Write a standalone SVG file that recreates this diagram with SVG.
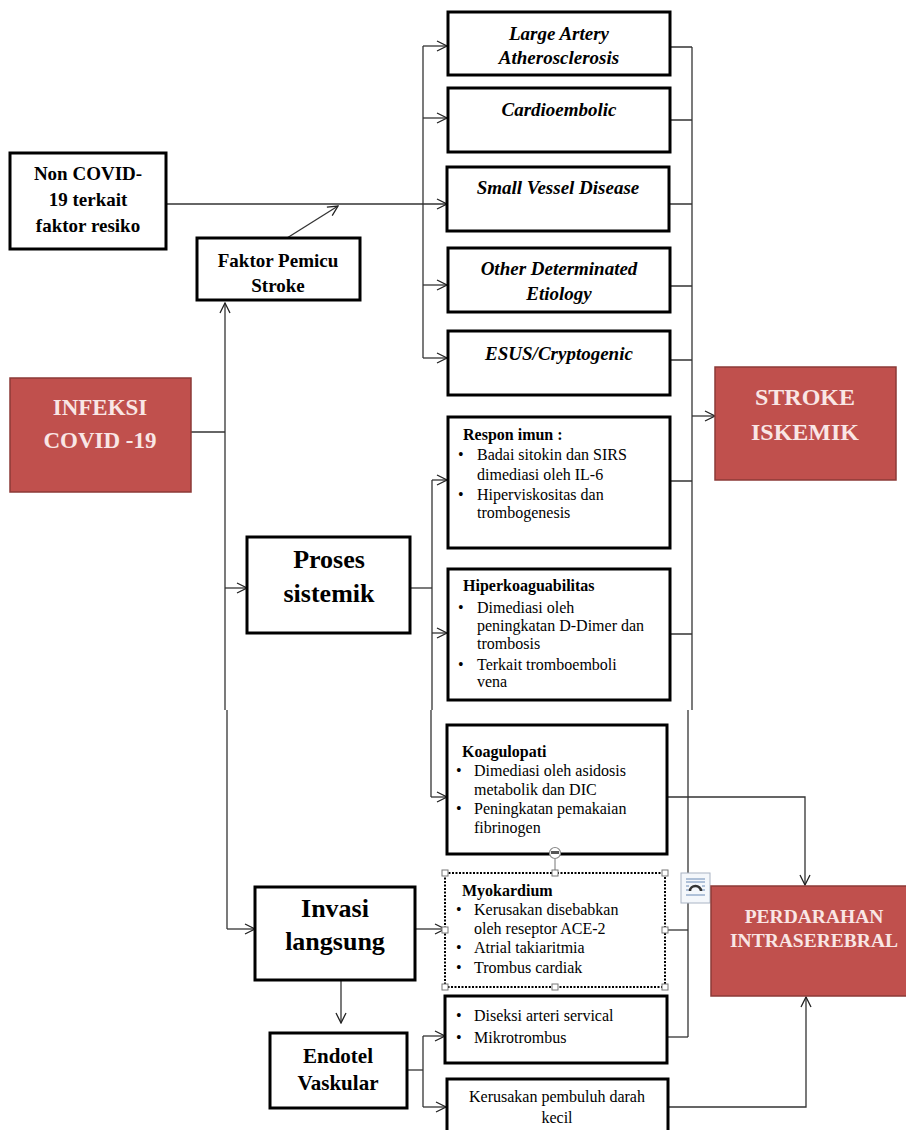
<svg xmlns="http://www.w3.org/2000/svg" width="906" height="1130" viewBox="0 0 906 1130">
<defs>
<marker id="ar" markerUnits="userSpaceOnUse" markerWidth="12" markerHeight="12" viewBox="0 0 12 12" refX="11" refY="6" orient="auto">
<path d="M1,1 L11,6 L1,11" fill="none" stroke="#222" stroke-width="1.3"/>
</marker>
</defs>
<style>
.bx{fill:#fff;stroke:#000;stroke-width:3}
.rb{fill:#c0504d;stroke:#8c3a37;stroke-width:1.5}
.ln{fill:none;stroke:#333;stroke-width:1.3}
.t{font-family:"Liberation Serif","Times New Roman",serif;fill:#000}
.b{font-weight:bold}
.i{font-style:italic}
.c{text-anchor:middle}
.w{fill:#f9e6e5;font-weight:bold}
.s{font-size:16px}
.h{fill:#fff;stroke:#777;stroke-width:1}
</style>
<rect width="906" height="1130" fill="#fff"/>

<g id="connectors">
<path class="ln" d="M166,204 H447" marker-end="url(#ar)"/>
<path class="ln" d="M287,238 L338,206" marker-end="url(#ar)"/>
<path class="ln" d="M191,432 H225"/>
<path class="ln" d="M225,710 V303" marker-end="url(#ar)"/>
<path class="ln" d="M227,710 V929"/>
<path class="ln" d="M225,588 H247" marker-end="url(#ar)"/>
<path class="ln" d="M227,929 H255" marker-end="url(#ar)"/>
<path class="ln" d="M423,46 V358"/>
<path class="ln" d="M423,46 H447" marker-end="url(#ar)"/>
<path class="ln" d="M423,118 H447" marker-end="url(#ar)"/>
<path class="ln" d="M423,285 H447" marker-end="url(#ar)"/>
<path class="ln" d="M423,358 H447" marker-end="url(#ar)"/>
<path class="ln" d="M670,47 H692 M670,120 H692 M670,204 H692 M670,286 H692 M670,360 H692"/>
<path class="ln" d="M692,47 V710"/>
<path class="ln" d="M688,710 V1037"/>
<path class="ln" d="M692,416 H715" marker-end="url(#ar)"/>
<path class="ln" d="M410,588 H432"/>
<path class="ln" d="M432,480 V710"/>
<path class="ln" d="M431,710 V797"/>
<path class="ln" d="M432,480 H447" marker-end="url(#ar)"/>
<path class="ln" d="M432,633 H447" marker-end="url(#ar)"/>
<path class="ln" d="M431,797 H447" marker-end="url(#ar)"/>
<path class="ln" d="M670,481 H692 M670,634 H692"/>
<path class="ln" d="M667,797 H805 V885" marker-end="url(#ar)"/>
<path class="ln" d="M665,930 H688"/>
<path class="ln" d="M415,929 H445" marker-end="url(#ar)"/>
<path class="ln" d="M341,980 V1023" marker-end="url(#ar)"/>
<path class="ln" d="M407,1070 H423"/>
<path class="ln" d="M423,1036 V1107"/>
<path class="ln" d="M423,1036 H445" marker-end="url(#ar)"/>
<path class="ln" d="M423,1107 H446" marker-end="url(#ar)"/>
<path class="ln" d="M667,1037 H688"/>
<path class="ln" d="M668,1107 H806 V997" marker-end="url(#ar)"/>
</g>

<g id="non-covid">
<rect class="bx" x="10" y="153" width="156" height="96"/>
<text class="t b c" font-size="19" x="88" y="180">Non COVID-</text>
<text class="t b c" font-size="19" x="88" y="206">19 terkait</text>
<text class="t b c" font-size="19" x="88" y="232">faktor resiko</text>
</g>

<g id="faktor-pemicu">
<rect class="bx" x="197" y="238" width="163" height="62" stroke-width="2.5"/>
<text class="t b c" font-size="19" x="278" y="267">Faktor Pemicu</text>
<text class="t b c" font-size="19" x="278" y="292">Stroke</text>
</g>

<g id="infeksi">
<rect class="rb" x="10" y="378" width="181" height="114"/>
<text class="t w c" font-size="23" x="100" y="415">INFEKSI</text>
<text class="t w c" font-size="23" x="100" y="448">COVID -19</text>
</g>

<g id="large-artery">
<rect class="bx" x="448" y="12" width="222" height="63"/>
<text class="t b i c" font-size="19" x="559" y="40">Large Artery</text>
<text class="t b i c" font-size="19" x="559" y="64">Atherosclerosis</text>
</g>
<g id="cardioembolic">
<rect class="bx" x="448" y="88" width="222" height="64"/>
<text class="t b i c" font-size="19" x="559" y="116">Cardioembolic</text>
</g>
<g id="small-vessel">
<rect class="bx" x="447" y="167" width="222" height="64"/>
<text class="t b i c" font-size="19" x="558" y="194">Small Vessel Disease</text>
</g>
<g id="other-determinated">
<rect class="bx" x="448" y="248" width="222" height="64"/>
<text class="t b i c" font-size="19" x="559" y="275">Other Determinated</text>
<text class="t b i c" font-size="19" x="559" y="300">Etiology</text>
</g>
<g id="esus">
<rect class="bx" x="448" y="331" width="222" height="64"/>
<text class="t b i c" font-size="19" x="559" y="360">ESUS/Cryptogenic</text>
</g>

<g id="stroke-iskemik">
<rect class="rb" x="715" y="367" width="181" height="113"/>
<text class="t w c" font-size="24" x="805" y="405">STROKE</text>
<text class="t w c" font-size="24" x="805" y="440">ISKEMIK</text>
</g>

<g id="proses-sistemik">
<rect class="bx" x="247" y="537" width="163" height="96"/>
<text class="t b c" font-size="26" x="329" y="568">Proses</text>
<text class="t b c" font-size="26" x="329" y="602">sistemik</text>
</g>

<g id="respon-imun">
<rect class="bx" x="448" y="417" width="222" height="131"/>
<text class="t b s" x="463" y="440">Respon imun :</text>
<text class="t s" x="458" y="460">•</text><text class="t s" x="477" y="460">Badai sitokin dan SIRS</text>
<text class="t s" x="477" y="480">dimediasi oleh IL-6</text>
<text class="t s" x="458" y="500">•</text><text class="t s" x="477" y="500">Hiperviskositas dan</text>
<text class="t s" x="477" y="518">trombogenesis</text>
</g>

<g id="hiperkoagulabilitas">
<rect class="bx" x="448" y="569" width="222" height="131"/>
<text class="t b s" x="463" y="591">Hiperkoaguabilitas</text>
<text class="t s" x="458" y="613">•</text><text class="t s" x="477" y="613">Dimediasi oleh</text>
<text class="t s" x="477" y="631">peningkatan D-Dimer dan</text>
<text class="t s" x="477" y="649">trombosis</text>
<text class="t s" x="458" y="670">•</text><text class="t s" x="477" y="670">Terkait tromboemboli</text>
<text class="t s" x="477" y="687">vena</text>
</g>

<g id="koagulopati">
<rect class="bx" x="447" y="725" width="220" height="129"/>
<text class="t b s" x="462" y="757">Koagulopati</text>
<text class="t s" x="456" y="776">•</text><text class="t s" x="474" y="776">Dimediasi oleh asidosis</text>
<text class="t s" x="474" y="795">metabolik dan DIC</text>
<text class="t s" x="456" y="814">•</text><text class="t s" x="474" y="814">Peningkatan pemakaian</text>
<text class="t s" x="474" y="833">fibrinogen</text>
</g>

<g id="myokardium">
<rect x="445" y="873" width="220" height="114" fill="#fff" stroke="#000" stroke-width="2" stroke-dasharray="2,1.5"/>
<text class="t b s" x="462" y="896">Myokardium</text>
<text class="t s" x="456" y="915">•</text><text class="t s" x="474" y="915">Kerusakan disebabkan</text>
<text class="t s" x="474" y="934">oleh reseptor ACE-2</text>
<text class="t s" x="456" y="953">•</text><text class="t s" x="474" y="953">Atrial takiaritmia</text>
<text class="t s" x="456" y="973">•</text><text class="t s" x="474" y="973">Trombus cardiak</text>
<line x1="555" y1="858" x2="555" y2="873" stroke="#777" stroke-width="1"/>
<circle cx="555" cy="853" r="5.5" fill="#fff" stroke="#888" stroke-width="1.2"/>
<rect x="551" y="851" width="8" height="3" fill="#555"/>
<rect class="h" x="442" y="870" width="6" height="6"/>
<rect class="h" x="552" y="870" width="6" height="6"/>
<rect class="h" x="662" y="870" width="6" height="6"/>
<rect class="h" x="442" y="927" width="6" height="6"/>
<rect class="h" x="662" y="927" width="6" height="6"/>
<rect class="h" x="442" y="984" width="6" height="6"/>
<rect class="h" x="552" y="984" width="6" height="6"/>
<rect class="h" x="662" y="984" width="6" height="6"/>
</g>

<g id="layout-icon">
<rect x="681" y="873" width="29" height="30" fill="#f4f7fb" stroke="#aab4c4" stroke-width="1"/>
<path d="M686,879 H705 M686,882 H705 M686,886 H689 M702,886 H705 M686,890 H689 M702,890 H705 M686,895 H705" stroke="#6a8ab5" stroke-width="1"/>
<path d="M690,891 A5.5,5 0 0 1 701,891" fill="none" stroke="#333" stroke-width="2.5"/>
</g>

<g id="perdarahan">
<rect class="rb" x="711" y="886" width="197" height="110"/>
<text class="t w c" font-size="19.5" x="814" y="923">PERDARAHAN</text>
<text class="t w c" font-size="19.5" x="814" y="947">INTRASEREBRAL</text>
</g>

<g id="invasi-langsung">
<rect class="bx" x="255" y="887" width="160" height="93"/>
<text class="t b c" font-size="26" x="335" y="917">Invasi</text>
<text class="t b c" font-size="26" x="335" y="950">langsung</text>
</g>

<g id="endotel-vaskular">
<rect class="bx" x="270" y="1033" width="137" height="75"/>
<text class="t b c" font-size="21" x="338" y="1063">Endotel</text>
<text class="t b c" font-size="21" x="338" y="1090">Vaskular</text>
</g>

<g id="diseksi">
<rect class="bx" x="445" y="996" width="222" height="67"/>
<text class="t s" x="456" y="1021">•</text><text class="t s" x="474" y="1021">Diseksi arteri servical</text>
<text class="t s" x="456" y="1043">•</text><text class="t s" x="474" y="1043">Mikrotrombus</text>
</g>

<g id="kerusakan-pembuluh">
<rect class="bx" x="447" y="1079" width="221" height="60"/>
<text class="t s c" x="557" y="1102">Kerusakan pembuluh darah</text>
<text class="t s c" x="557" y="1123">kecil</text>
</g>
</svg>
